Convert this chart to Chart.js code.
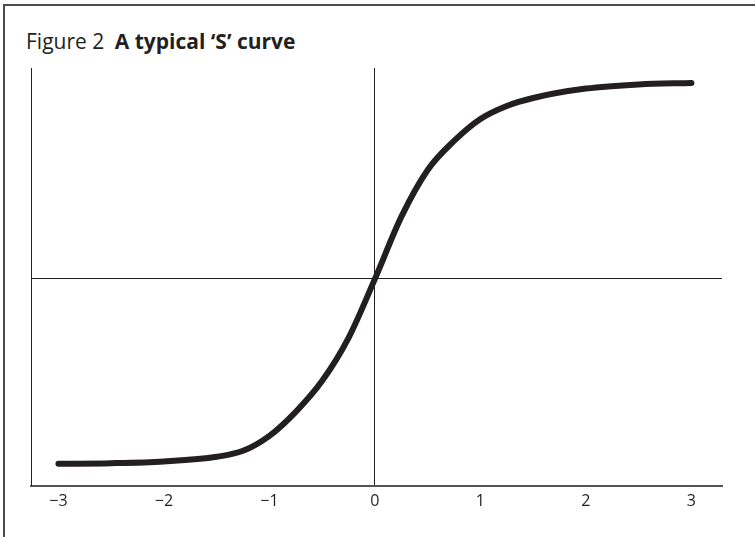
<!DOCTYPE html>
<html lang="en">
<head>
    <meta charset="UTF-8">
    <title>A typical 'S' curve</title>
    <script src="https://cdn.jsdelivr.net/npm/chart.js"></script>
    <style>
        body {
            margin: 0;
            width: 755px;
            height: 537px;
            overflow: hidden;
            background: #fff;
            font-family: 'Open Sans', sans-serif;
            color: #231f20;
        }

        #frame {
            position: absolute;
            left: 3px;
            top: 4px;
            width: 752px;
            height: 533px;
            border-left: 2px solid #4a4a4a;
            border-top: 2px solid #4a4a4a;
        }

        #title {
            position: absolute;
            left: 26px;
            top: 27px;
            font-size: 21px;
            white-space: nowrap;
        }

        #title b {
            font-weight: 700;
            margin-left: 5px;
        }

        #chart-wrapper {
            position: absolute;
            left: 0;
            top: 0;
            width: 755px;
            height: 537px;
        }
    </style>
</head>
<body>
<div id="frame"></div>
<div id="title">Figure 2 <b>A typical ‘S’ curve</b></div>
<div id="chart-wrapper">
    <canvas id="sCurve"></canvas>
</div>
<script>
    // values
    const xValues = [-3, -2.5, -2, -1.5, -1.25, -1, -0.75, -0.5, -0.25, 0,
        0.25, 0.5, 0.75, 1, 1.25, 1.5, 2, 2.5, 3];
    const yValues = [-0.925, -0.922, -0.913, -0.89, -0.86, -0.785, -0.665, -0.51, -0.295, 0,
        0.31, 0.545, 0.69, 0.8, 0.865, 0.905, 0.952, 0.973, 0.98];
    const xTicks = [-3, -2, -1, 0, 1, 2, 3];

    const ink = '#231f20';

    const ctx = document.getElementById('sCurve').getContext('2d');
    new Chart(ctx, {
        type: 'scatter',
        data: {
            datasets: [{
                data: xValues.map((x, i) => ({x: x, y: yValues[i]})),
                showLine: true,
                borderColor: ink,
                borderWidth: 6,
                borderCapStyle: 'round',
                borderJoinStyle: 'round',
                cubicInterpolationMode: 'monotone',
                pointRadius: 0,
                pointHoverRadius: 0
            }]
        },
        options: {
            responsive: true,
            maintainAspectRatio: false,
            animation: false,
            layout: {
                padding: {left: 31, right: 33, top: 68, bottom: 20}
            },
            plugins: {
                legend: {display: false},
                tooltip: {enabled: false}
            },
            scales: {
                x: {
                    type: 'linear',
                    min: -3.26,
                    max: 3.29,
                    afterBuildTicks: scale => {
                        scale.ticks = xTicks.map(v => ({value: v}));
                    },
                    border: {color: '#555', width: 2},
                    grid: {
                        drawTicks: false,
                        color: c => c.tick && c.tick.value === 0 ? ink : 'transparent',
                        lineWidth: 1
                    },
                    ticks: {
                        padding: 6,
                        color: ink,
                        font: {family: 'Open Sans', size: 16},
                        callback: v => v < 0 ? '\u2212' + Math.abs(v) : String(v)
                    }
                },
                y: {
                    type: 'linear',
                    min: -1.035,
                    max: 1.055,
                    afterBuildTicks: scale => {
                        scale.ticks = [{value: 0}];
                    },
                    border: {color: ink, width: 1},
                    grid: {
                        drawTicks: false,
                        color: ink,
                        lineWidth: 1
                    },
                    ticks: {display: false}
                }
            }
        }
    });
</script>
</body>
</html>
